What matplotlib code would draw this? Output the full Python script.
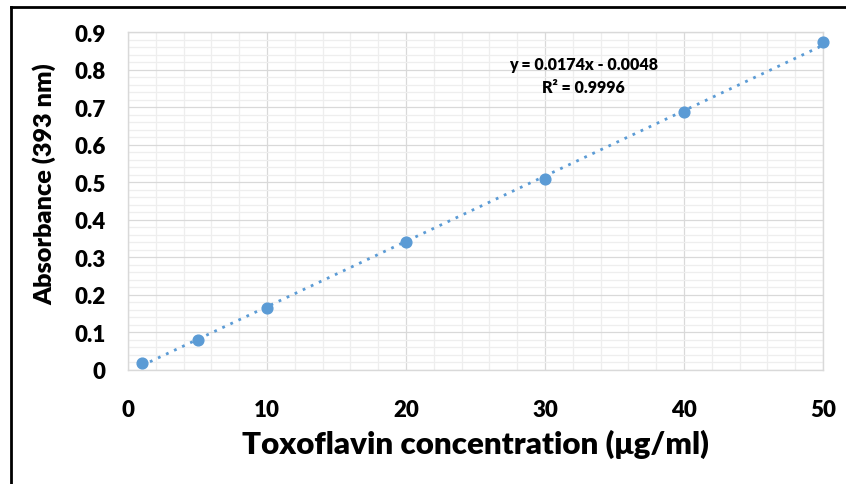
import numpy as np
import matplotlib
matplotlib.use("Agg")
import matplotlib.pyplot as plt
from matplotlib.lines import Line2D
from matplotlib.ticker import MultipleLocator

concentration = [1, 5, 10, 20, 30, 40, 50]
absorbance = [0.019, 0.081, 0.166, 0.341, 0.509, 0.687, 0.873]
x_ticks = [0, 10, 20, 30, 40, 50]
y_ticks = [0, 0.1, 0.2, 0.3, 0.4, 0.5, 0.6, 0.7, 0.8, 0.9]
y_tick_labels = ["0", "0.1", "0.2", "0.3", "0.4", "0.5", "0.6", "0.7", "0.8", "0.9"]
equation_text = "y = 0.0174x - 0.0048"
r2_text = "R² = 0.9996"

plt.rcParams["font.family"] = ["Lato", "DejaVu Sans"]
WT = "heavy"
plt.rcParams["font.weight"] = WT

fig = plt.figure(figsize=(8.46, 4.85), dpi=100)
W, H = 846, 485
ax = fig.add_axes([128 / W, 1 - 371 / H, (823 - 128) / W, (371 - 33) / H])

blue = "#5B9BD5"
ax.set_xlim(0, 50)
ax.set_ylim(0, 0.9)
ax.xaxis.set_major_locator(MultipleLocator(10))
ax.xaxis.set_minor_locator(MultipleLocator(2))
ax.yaxis.set_major_locator(MultipleLocator(0.1))
ax.yaxis.set_minor_locator(MultipleLocator(0.02))
ax.grid(which="minor", color="#eeeeee", linewidth=0.9)
ax.grid(which="major", color="#d9d9d9", linewidth=0.9)
ax.set_axisbelow(True)
for s in ax.spines.values():
    s.set_color("#d9d9d9")
    s.set_linewidth(1.0)

ax.set_xticks(x_ticks)
ax.set_xticklabels([str(v) for v in x_ticks])
ax.set_yticks(y_ticks)
ax.set_yticklabels(y_tick_labels)
ax.tick_params(which="both", length=0)
ax.tick_params(axis="x", pad=21, labelsize=16)
ax.tick_params(axis="y", pad=16, labelsize=16)
for lab in ax.get_xticklabels() + ax.get_yticklabels():
    lab.set_fontweight(WT)

# trendline
coef = np.polyfit(concentration, absorbance, 1)
xs = np.array([min(concentration), max(concentration)])
ax.plot(xs, np.polyval(coef, xs), linestyle=(0, (1, 2.2)), color=blue, linewidth=2.0, zorder=2)
ax.scatter(concentration, absorbance, s=60, color=blue, zorder=3, clip_on=False)

ax.text(0.655, 0.905, equation_text, transform=ax.transAxes, ha="center", va="center",
        fontsize=11.5, fontweight=WT)
ax.text(0.655, 0.837, r2_text, transform=ax.transAxes, ha="center", va="center",
        fontsize=11.5, fontweight=WT)

ax.set_xlabel("Toxoflavin concentration (μg/ml)", fontsize=22.5, fontweight=WT, labelpad=6)
ax.set_ylabel("Absorbance (393 nm)", fontsize=18.2, fontweight=WT, labelpad=10)
ax.yaxis.set_label_coords(-0.103, 0.553)

# figure frame (top and left)
fig.add_artist(Line2D([11 / W, 1], [1 - 8 / H, 1 - 8 / H], color="black", linewidth=2, transform=fig.transFigure))
fig.add_artist(Line2D([11 / W, 11 / W], [0, 1 - 8 / H], color="black", linewidth=2, transform=fig.transFigure))

fig.savefig("out.png", dpi=100)
